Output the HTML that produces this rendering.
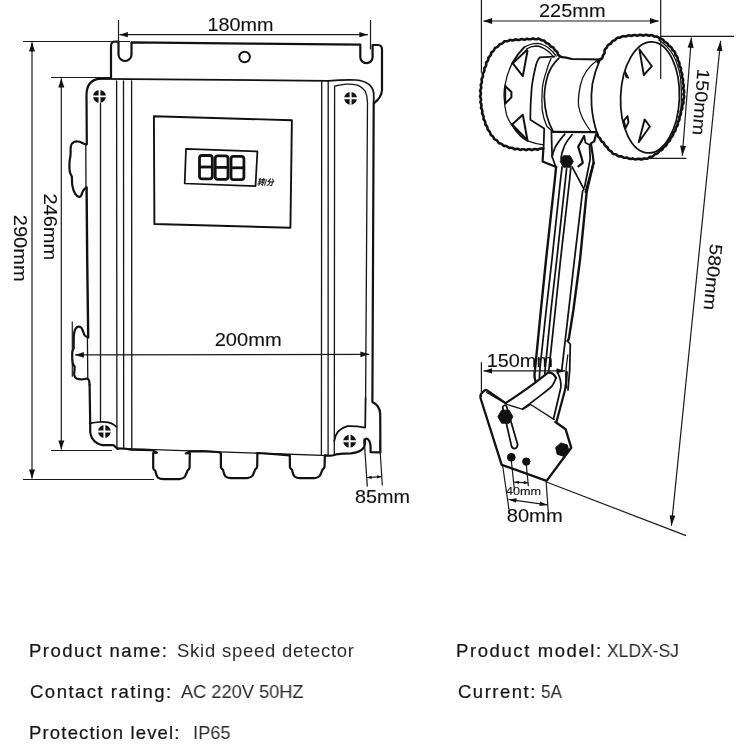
<!DOCTYPE html>
<html lang="en">
<head>
<meta charset="utf-8">
<title>Skid speed detector dimensions</title>
<style>
html,body{margin:0;padding:0;background:#fff;}
body{width:748px;height:748px;overflow:hidden;position:relative;font-family:"Liberation Sans","Noto Sans CJK SC",sans-serif;color:#1a1a1a;}
svg{position:absolute;left:0;top:0;display:block;will-change:transform;}
svg text{font-family:"Liberation Sans","Noto Sans CJK SC",sans-serif;fill:#111;stroke:#111;stroke-width:0.1;}
.o{fill:none;stroke:#111;stroke-width:2.2;stroke-linejoin:round;stroke-linecap:round;}
.m{fill:none;stroke:#111;stroke-width:1.75;stroke-linejoin:round;stroke-linecap:round;}
.t{fill:none;stroke:#141414;stroke-width:1.3;stroke-linejoin:round;stroke-linecap:round;}
.scr .m{stroke-width:1.9;}
.d{fill:none;stroke:#1a1a1a;stroke-width:1.2;}
.a{fill:#111;stroke:none;}
.k{fill:#111;stroke:#111;stroke-width:1;stroke-linejoin:round;}
.spec{position:absolute;white-space:nowrap;font-size:18.5px;line-height:20px;color:#2b2b2b;transform-origin:0 50%;will-change:transform;}
.spec b{font-weight:normal;color:#151515;-webkit-text-stroke:0.22px #151515;}
</style>
</head>
<body>
<svg width="748" height="748" viewBox="0 0 748 748">
<!--LEFT-->
<g id="box">
<!-- top mounting bracket -->
<path class="o" d="M111,78 L111,46 Q111,41.5 115.5,41.5 L118.5,41.6 L118.5,54.5 A6.5,6.5 0 0 0 131.5,54.5 L131.5,42.4 L250,43.6 L360.3,44.7 L360.3,57 A6.15,6.15 0 0 0 372.6,57 L372.6,45 L378,45 Q382,45.2 382,49.5 L382,90 Q381.6,97.5 374.2,103"/>
<circle class="m" cx="244.6" cy="57" r="5.3" style="stroke-width:1.9"/>
<!-- box top + left side -->
<path class="o" d="M111,78 L100,78.6 Q87,80 86.5,94 L86.8,144"/>
<path class="o" d="M86.6,144.5 C84,144.5 81,142 79.3,141.7 C77,141.2 75,141.3 73.7,142.2 C72,143.2 71,144.5 70.9,145.9 C70.3,150 70.8,153 70.4,156.2 C70.1,159 69.4,160.5 69.5,162.7 C69.3,166 69.3,169 69.8,172.1 C70.3,174.2 71.5,175 71.8,176.8 C72.2,179.5 71.8,182.5 72.3,185.2 C72.9,188.5 73.8,191.5 75.1,193.6 C76.2,195.2 77.5,196.6 78.9,196.9 C80,197 80.8,196.4 81.2,195.5 C82,193.8 82.4,192 83.1,190.8 C83.8,189.4 84.6,188.3 86.6,187.6"/>
<path class="t" d="M85.8,144.5 L86,188"/>
<path class="o" d="M86.6,187.6 L87.2,260 L88.2,337.2" style="stroke-width:2.4"/>
<path class="o" d="M88,337.4 C86.5,337 85.6,336.4 84.9,335.6 C83.6,333.5 83,331 82.1,329 C81.5,327.8 80.8,327 79.8,326.7 C78.8,326.4 77.8,326.6 77,327.2 C75.8,328.2 75,329.4 74.6,330.9 C73.9,333.3 73.8,336 73.7,338.4 L73.7,347.7 C73.4,349.5 72.5,350.6 72.3,352.4 C72,356 72.2,360 72.8,363.6 C73.2,365 74.3,365.6 74.6,366.9 C74.8,369.6 74,372.5 74.2,374.9 C74.5,376.6 75.3,378 76.5,378.6 C78.3,379.4 80.2,379.5 82.1,379.5 C83.8,379.4 85.4,378.5 86.8,378.6 C88,378.8 88.7,379.6 89.1,380.5 L89.6,385"/>
<path class="t" d="M87.4,337.4 L87.8,378.6"/>
<path class="o" d="M89.6,385 L90.2,423.4 L90.2,432 Q90.6,435.5 92,438 Q94,441.5 97.4,443.4 Q100,444.8 102.7,445.1 L113.4,445.2 Q115,446.4 116.1,447.6 L117.5,448.6"/>
<path class="m" d="M99,78.8 L328,80.8"/>
<!-- bottom-left screw tab -->
<path class="m" d="M89.6,423.4 Q95,422.4 100,422 Q104.5,421.8 108.1,422.4 Q111,423 113.4,424.4 Q115.2,425.4 116.6,427"/>
<!-- vertical ribs left -->
<path class="t" d="M100.5,103 L100.5,422 M116.6,81 L116.9,448 M123.5,81 L123.7,448.5 M131.6,81 L131.8,449"/>
<!-- vertical ribs right -->
<path class="t" d="M321.7,81 L321.4,454.5 M328.2,81 L328.1,454.8"/>
<path class="t" d="M334.3,454.6 L334.6,86.2 Q341,84.6 346.1,84.2 Q352.5,83.8 358.1,85.4 Q363,87.6 365.4,91.4 Q367.2,95.5 367.5,102.2 L365.6,398"/>
<path class="m" d="M365.6,398 L365.2,427"/>
<path class="m" d="M328,80.8 Q345,79.5 356,80 Q372,81.5 373.7,93 L373.7,103"/>
<path class="o" style="stroke-width:2.2" d="M373.7,103 L372.4,402 Q380,405.5 380.2,414 L380.4,452.4 L370.6,452.2 L370.5,446 Q370,439.5 366.5,438.5 Q364,439 364.5,444"/>
<!-- bottom-right screw tab -->
<path class="m" d="M334.3,441 Q336,429 347.5,426.2 Q356,426 365.2,427.6"/>
<!-- bottom edge with glands -->
<path class="t" d="M117.5,448.4 L330,455.6"/>
<path class="o" d="M117.5,448.6 Q125,448.2 131,449.6 L152.5,450.2 L157,452.6 L153.2,453 L153.2,468.0 Q153.5,470.0 155.4,471.0 Q156.4,476.2 158.2,477.8 Q159.8,479.2 163.2,479.2 L179.6,479.1 Q183.0,479.0 185.0,476.6 Q186.2,474.2 187.6,470.4 Q189.4,469.4 189.6,467.4 L189.8,453.0 L185.8,453.4 L190,451.4 L203,451.2 Q212,451.8 218,452 L220.9,453 L220.9,467.0 Q221.2,469.0 223.1,470.0 Q224.1,475.2 225.9,476.8 Q227.5,478.2 230.9,478.2 L247.2,478.1 Q250.6,478.0 252.6,475.6 Q253.8,473.2 255.2,469.4 Q257.0,468.4 257.2,466.4 L257.4,453.0 L272,454 L289.8,455.4 L289.9,467.0 Q290.2,469.0 292.1,470.0 Q293.1,475.2 294.9,476.8 Q296.5,478.2 299.9,478.2 L314.6,478.1 Q318.0,478.0 320.0,475.6 Q321.2,473.2 322.6,469.4 Q324.4,468.4 324.6,466.4 L324.8,455.4 Q331,456.4 336,454.4 Q343,453.6 351,453.4 Q360,452.4 364,447.5 Q365.4,444 364.6,440"/>
<!-- screws -->
<g class="scr">
<circle cx="99.5" cy="96.4" r="6.4" fill="#111"/><path d="M93.0,96.4 H106.0 M99.5,89.9 V102.9" stroke="#fff" stroke-width="1.9" fill="none"/>
<circle cx="350.6" cy="98.3" r="6.4" fill="#111"/><path d="M344.1,98.3 H357.1 M350.6,91.8 V104.8" stroke="#fff" stroke-width="1.9" fill="none"/>
<circle cx="104.4" cy="431.5" r="6.4" fill="#111"/><path d="M97.9,431.5 H110.9 M104.4,425.0 V438.0" stroke="#fff" stroke-width="1.9" fill="none"/>
<circle cx="349.6" cy="441.2" r="6.4" fill="#111"/><path d="M343.1,441.2 H356.1 M349.6,434.7 V447.7" stroke="#fff" stroke-width="1.9" fill="none"/>
</g>
<!-- display panel -->
<path class="m" style="stroke-width:1.9" d="M153.9,116.2 L291.9,120.3 L290.4,227.7 L154.4,224 Z"/>
<path class="m" d="M186,148.8 L257.4,151.4 L255.5,186.1 L184.7,183.5 Z"/>
<g fill="none" stroke="#111" stroke-width="2.8" stroke-linejoin="round">
<rect x="199.5" y="155.5" width="12.8" height="23.4" rx="2.6"/><path d="M199.5,167 H212.3"/>
<rect x="215.2" y="155.9" width="12.8" height="23.4" rx="2.6"/><path d="M215.2,167.4 H228"/>
<rect x="231" y="156.3" width="12.9" height="23.4" rx="2.6"/><path d="M231,167.8 H243.9"/>
</g>
<text x="257" y="185" font-size="8.4" font-weight="bold" font-style="italic" textLength="16.6" lengthAdjust="spacingAndGlyphs" transform="rotate(2 257 185)">转/分</text>
</g>
<!--/LEFT-->
<!--RIGHT-->
<g id="sensor">
<!-- left wheel tyre -->
<path class="o" style="stroke-width:2.6" d="M560.5,56.5 L559.8,56.1 L559.2,55.7 L558.6,55.2 L558.2,54.7 L557.9,54.1 L557.6,53.4 L557.4,52.6 L557.3,51.9 L556.7,51.4 L556.1,51.1 L555.5,50.7 L555.0,50.2 L554.5,49.7 L554.1,49.1 L553.8,48.4 L553.5,47.7 L552.9,47.3 L552.2,47.1 L551.5,46.8 L550.9,46.5 L550.4,46.0 L549.9,45.5 L549.5,44.9 L549.1,44.2 L548.6,43.8 L547.8,43.6 L547.1,43.4 L546.5,43.1 L545.9,42.7 L545.4,42.2 L544.9,41.7 L544.5,41.0 L544.0,40.6 L543.2,40.5 L542.4,40.4 L541.8,40.3 L541.1,40.0 L540.6,39.7 L540.0,39.4 L539.3,39.0 L538.7,38.6 L537.9,38.8 L537.2,39.1 L536.5,39.2 L535.8,39.3 L535.1,39.2 L534.4,39.0 L533.7,38.8 L533.0,38.4 L532.3,38.7 L531.6,39.0 L530.9,39.2 L530.2,39.3 L529.6,39.3 L528.8,39.2 L528.1,39.0 L527.4,38.7 L526.7,38.8 L526.0,39.2 L525.4,39.4 L524.7,39.6 L524.0,39.6 L523.3,39.5 L522.6,39.3 L521.8,39.1 L521.1,39.1 L520.5,39.4 L519.8,39.7 L519.1,39.9 L518.4,40.0 L517.7,39.9 L517.0,39.7 L516.2,39.5 L515.5,39.4 L514.9,39.8 L514.2,40.1 L513.5,40.3 L512.8,40.4 L512.1,40.4 L511.4,40.3 L510.7,40.1 L509.9,39.9 L509.3,40.3 L508.7,40.7 L508.0,41.0 L507.4,41.2 L506.7,41.3 L506.0,41.3 L505.2,41.3 L504.4,41.2 L503.9,41.8 L503.4,42.3 L502.9,42.8 L502.4,43.3 L501.8,43.6 L501.1,43.9 L500.4,44.1 L499.7,44.2 L499.2,44.8 L498.8,45.4 L498.3,46.0 L497.8,46.5 L497.3,46.9 L496.7,47.2 L496.0,47.5 L495.2,47.7 L494.8,48.2 L494.5,48.9 L494.2,49.6 L493.9,50.2 L493.5,50.8 L493.0,51.3 L492.4,51.7 L491.7,52.1 L491.3,52.6 L491.2,53.4 L491.0,54.1 L490.8,54.8 L490.5,55.4 L490.1,56.0 L489.5,56.5 L489.0,57.0 L488.4,57.5 L488.4,58.3 L488.4,59.0 L488.2,59.7 L488.0,60.4 L487.7,61.0 L487.2,61.5 L486.7,62.1 L486.1,62.6 L486.2,63.4 L486.2,64.1 L486.2,64.9 L486.0,65.6 L485.8,66.2 L485.4,66.8 L484.9,67.4 L484.4,68.0 L484.4,68.7 L484.4,69.4 L484.4,70.2 L484.3,70.9 L484.1,71.5 L483.8,72.2 L483.3,72.8 L482.9,73.4 L482.7,74.0 L482.9,74.8 L482.9,75.5 L482.9,76.2 L482.7,76.9 L482.5,77.6 L482.1,78.2 L481.7,78.8 L481.5,79.5 L481.7,80.3 L481.8,81.0 L481.9,81.7 L481.8,82.4 L481.6,83.1 L481.3,83.7 L480.9,84.4 L480.7,85.1 L480.9,85.8 L481.1,86.5 L481.2,87.2 L481.2,87.9 L481.1,88.6 L480.8,89.3 L480.5,90.0 L480.1,90.7 L480.4,91.4 L480.7,92.1 L480.8,92.8 L480.9,93.5 L480.8,94.2 L480.6,94.9 L480.4,95.6 L480.0,96.3 L480.3,97.0 L480.6,97.7 L480.8,98.4 L481.0,99.1 L481.0,99.7 L480.8,100.5 L480.6,101.2 L480.4,101.9 L480.5,102.6 L480.9,103.3 L481.2,103.9 L481.4,104.6 L481.5,105.3 L481.4,106.0 L481.3,106.7 L481.0,107.5 L481.1,108.2 L481.5,108.8 L481.9,109.4 L482.2,110.1 L482.3,110.8 L482.3,111.5 L482.3,112.2 L482.1,113.0 L482.1,113.7 L482.6,114.3 L483.0,114.9 L483.3,115.6 L483.5,116.2 L483.6,116.9 L483.6,117.6 L483.5,118.4 L483.4,119.1 L483.9,119.7 L484.4,120.3 L484.8,120.9 L485.1,121.6 L485.2,122.2 L485.3,122.9 L485.3,123.7 L485.3,124.5 L485.8,125.0 L486.3,125.5 L486.8,126.1 L487.1,126.7 L487.4,127.4 L487.5,128.0 L487.6,128.8 L487.6,129.6 L488.1,130.1 L488.7,130.6 L489.2,131.1 L489.6,131.7 L490.0,132.3 L490.2,132.9 L490.4,133.6 L490.5,134.4 L490.9,135.0 L491.5,135.4 L492.2,135.8 L492.7,136.2 L493.1,136.8 L493.5,137.4 L493.8,138.0 L494.0,138.8 L494.4,139.3 L495.2,139.6 L495.9,139.9 L496.5,140.2 L497.0,140.7 L497.5,141.2 L497.9,141.8 L498.3,142.4 L498.7,143.1 L499.4,143.2 L500.2,143.4 L500.8,143.6 L501.5,143.9 L502.0,144.3 L502.6,144.8 L503.1,145.3 L503.6,145.9 L504.3,145.9 L505.1,145.9 L505.8,146.0 L506.5,146.2 L507.1,146.4 L507.7,146.8 L508.3,147.3 L508.9,147.8 L509.6,147.9 L510.3,147.8 L511.1,147.7 L511.8,147.8 L512.4,148.0 L513.1,148.3 L513.7,148.7 L514.3,149.1 L515.0,149.2 L515.8,149.0 L516.5,148.9 L517.2,148.8 L517.9,148.9 L518.6,149.1 L519.2,149.4 L519.9,149.7 L520.6,149.9 L521.3,149.6 L522.0,149.3 L522.7,149.2 L523.4,149.2 L524.1,149.3 L524.8,149.6 L525.5,149.9 L526.2,150.1 L526.9,149.8 L527.6,149.5 L528.3,149.3 L529.0,149.3 L529.7,149.3 L530.4,149.5 L531.1,149.8 L531.8,150.1 L532.5,149.7 L533.2,149.4 L533.9,149.2 L534.6,149.1 L535.3,149.1 L536.0,149.2 L536.7,149.4 L537.4,149.7 L538.1,149.5 L538.8,149.1 L539.4,148.8 L540.1,148.6 L540.8,148.5 L541.5,148.5 L542.2,148.6 L543.0,148.8"/>
<!-- rim ellipses -->
<path class="t" d="M556.2,56.1 Q553,51.5 549.5,48.7 Q543.5,44 537.5,43.4 Q530,43.6 524.1,47.4"/>
<path class="t" d="M553.6,56.8 Q550,52.5 547,50.4 Q541.5,46.2 536,46 Q530.5,46.2 526.5,49"/>
<path class="o" style="stroke-width:2" d="M524.1,47.4 Q517,54.5 512.1,63.4"/>
<path class="t" d="M512.1,63.4 Q507.2,73 505.4,83.5 Q503.8,90 504.1,96.8 Q504.4,106.5 506.7,115.6 Q508.6,120.5 511.4,124.1"/>
<path class="o" style="stroke-width:2" d="M511.4,124.1 Q515.5,131 520.8,136.1 Q524,139 527.5,140.8"/>
<path class="t" d="M527.5,140.8 Q535,143.6 543.5,144.8"/>
<!-- spokes holes -->
<path class="m" style="stroke-width:2" d="M526.8,50 Q527.6,50.2 527.4,51.5 L522.8,76.1 L512.8,63.4 Z M505.2,86 L511.4,92 L511.4,97.4 L505.2,103.6 Z M512.1,124.4 L522.8,114.8 L527.5,140.2 Z"/>
<!-- flange -->
<path class="m" d="M554.2,56.7 L539.5,57.4 Q536.6,61.5 536.1,64.8 Q532.3,80 531.5,90.2 Q530.3,105 530.3,119.8 L544.2,128.6 L543.6,148.4"/>
<path class="t" d="M550.9,58.7 Q548,65 546.8,70.1 Q542.6,82 542.2,90.2 Q541.6,100 542.2,110.2 Q543.5,119 546.8,126.3 L552.1,130.9"/>
<!-- hub cylinder -->
<path class="m" d="M558.9,58.1 Q551,66 548.2,74.1 Q544.5,86 544.3,96.8 Q544.6,107 546.8,115.6 Q549,124 552.9,131.2"/>
<path class="o" d="M560.2,56.8 Q566,57 572,59 L601.2,59.5 M552.7,131.8 L595.2,132.2"/>
<path class="t" d="M596.9,60.5 Q583.5,70 580.2,86 Q577.8,98 578.6,106 Q580.5,118 590.9,131.4"/>
<!-- right wheel tyre -->
<path class="o" style="stroke-width:2.6" d="M597.8,62.2 L598.1,61.5 L598.5,60.8 L598.9,60.2 L599.4,59.7 L599.9,59.3 L600.5,59.0 L601.2,58.7 L602.0,58.4 L602.3,57.8 L602.5,57.1 L602.7,56.4 L602.9,55.8 L603.2,55.2 L603.5,54.6 L604.0,54.0 L604.5,53.4 L604.6,52.7 L604.5,52.0 L604.5,51.2 L604.6,50.5 L604.8,49.8 L605.2,49.2 L605.7,48.6 L606.3,48.2 L606.8,47.7 L607.0,47.0 L607.3,46.2 L607.6,45.6 L608.1,45.1 L608.7,44.6 L609.3,44.3 L610.1,44.1 L610.8,43.8 L611.1,43.1 L611.5,42.5 L611.9,41.9 L612.3,41.3 L612.9,40.9 L613.6,40.6 L614.3,40.4 L615.0,40.2 L615.5,39.7 L615.9,39.0 L616.4,38.5 L617.0,38.1 L617.7,37.8 L618.4,37.6 L619.2,37.6 L619.9,37.7 L620.6,37.4 L621.2,37.0 L621.8,36.6 L622.5,36.3 L623.2,36.2 L623.9,36.2 L624.6,36.3 L625.4,36.5 L626.1,36.5 L626.7,36.1 L627.4,35.7 L628.1,35.5 L628.8,35.4 L629.5,35.4 L630.2,35.6 L630.9,35.8 L631.6,36.0 L632.3,35.6 L633.0,35.3 L633.7,35.1 L634.4,35.0 L635.1,35.0 L635.8,35.2 L636.5,35.4 L637.2,35.7 L637.9,35.5 L638.6,35.2 L639.3,34.9 L640.0,34.8 L640.7,34.9 L641.4,35.0 L642.1,35.3 L642.8,35.6 L643.5,35.5 L644.2,35.2 L644.9,35.0 L645.6,34.9 L646.3,34.9 L647.0,35.0 L647.7,35.3 L648.4,35.6 L649.1,35.8 L649.8,35.5 L650.5,35.3 L651.2,35.2 L652.0,35.3 L652.6,35.5 L653.3,35.8 L653.9,36.3 L654.5,36.7 L655.3,36.5 L656.1,36.5 L656.8,36.6 L657.5,36.8 L658.1,37.1 L658.7,37.5 L659.2,38.1 L659.7,38.7 L660.4,38.8 L661.2,38.9 L661.9,39.1 L662.5,39.4 L663.1,39.8 L663.6,40.4 L664.0,41.0 L664.3,41.7 L664.9,42.1 L665.7,42.3 L666.3,42.6 L666.9,43.0 L667.4,43.5 L667.9,44.1 L668.2,44.7 L668.5,45.4 L669.0,46.0 L669.7,46.2 L670.3,46.6 L670.9,47.0 L671.4,47.5 L671.8,48.1 L672.1,48.8 L672.3,49.5 L672.6,50.2 L673.2,50.5 L673.9,51.0 L674.4,51.5 L674.8,52.1 L675.1,52.7 L675.3,53.4 L675.4,54.2 L675.4,54.9 L676.0,55.4 L676.5,56.0 L677.0,56.5 L677.3,57.1 L677.6,57.8 L677.7,58.5 L677.7,59.3 L677.6,60.0 L678.0,60.7 L678.5,61.2 L678.9,61.8 L679.2,62.5 L679.4,63.1 L679.5,63.8 L679.5,64.6 L679.4,65.3 L679.6,66.0 L680.0,66.6 L680.5,67.2 L680.8,67.9 L681.0,68.6 L681.0,69.3 L681.0,70.0 L680.9,70.7 L680.8,71.5 L681.3,72.1 L681.7,72.7 L682.0,73.4 L682.2,74.1 L682.2,74.8 L682.2,75.5 L682.0,76.2 L681.8,77.0 L682.2,77.6 L682.6,78.3 L682.9,78.9 L683.1,79.6 L683.1,80.3 L683.0,81.0 L682.9,81.8 L682.6,82.5 L682.9,83.2 L683.2,83.8 L683.5,84.5 L683.7,85.2 L683.8,85.9 L683.7,86.6 L683.5,87.3 L683.2,88.0 L683.3,88.7 L683.6,89.4 L683.9,90.1 L684.1,90.8 L684.2,91.5 L684.1,92.2 L683.9,92.9 L683.6,93.6 L683.4,94.3 L683.7,95.0 L684.0,95.7 L684.1,96.4 L684.1,97.2 L684.0,97.9 L683.8,98.5 L683.4,99.2 L683.0,99.9 L683.3,100.6 L683.4,101.3 L683.5,102.1 L683.5,102.8 L683.3,103.5 L683.0,104.1 L682.6,104.8 L682.1,105.4 L682.1,106.1 L682.3,106.8 L682.3,107.6 L682.3,108.3 L682.1,109.0 L681.8,109.6 L681.4,110.2 L680.9,110.8 L680.8,111.5 L680.9,112.3 L681.0,113.0 L680.9,113.7 L680.8,114.4 L680.5,115.1 L680.1,115.7 L679.7,116.3 L679.4,116.9 L679.5,117.7 L679.6,118.4 L679.5,119.2 L679.4,119.8 L679.1,120.5 L678.7,121.1 L678.2,121.7 L677.7,122.3 L677.8,123.0 L677.9,123.8 L677.8,124.5 L677.6,125.2 L677.3,125.8 L676.9,126.4 L676.4,127.0 L675.8,127.5 L675.7,128.2 L675.7,129.0 L675.6,129.7 L675.4,130.4 L675.1,131.0 L674.6,131.6 L674.1,132.1 L673.5,132.6 L673.2,133.2 L673.2,134.0 L673.1,134.7 L672.8,135.4 L672.5,136.0 L672.1,136.6 L671.5,137.1 L670.9,137.5 L670.4,138.1 L670.3,138.8 L670.2,139.6 L669.9,140.2 L669.6,140.9 L669.1,141.4 L668.5,141.8 L667.9,142.3 L667.3,142.7 L667.1,143.4 L666.9,144.1 L666.6,144.8 L666.2,145.4 L665.7,145.9 L665.1,146.3 L664.4,146.6 L663.7,146.9 L663.4,147.6 L663.1,148.3 L662.7,148.9 L662.3,149.5 L661.7,149.9 L661.1,150.3 L660.4,150.5 L659.6,150.7 L659.1,151.2 L658.8,151.9 L658.3,152.5 L657.8,153.0 L657.3,153.4 L656.6,153.7 L655.9,154.0 L655.2,154.1 L654.6,154.4 L654.1,155.0 L653.6,155.6 L653.1,156.1 L652.5,156.4 L651.8,156.7 L651.1,156.8 L650.3,156.8 L649.6,156.9 L649.1,157.5 L648.5,158.0 L647.9,158.4 L647.3,158.7 L646.5,158.8 L645.8,158.8 L645.0,158.6 L644.3,158.4 L643.6,158.7 L643.0,159.0 L642.3,159.3 L641.6,159.4 L640.9,159.4 L640.2,159.2 L639.5,159.0 L638.8,158.7 L638.1,158.8 L637.4,159.1 L636.6,159.3 L635.9,159.4 L635.2,159.3 L634.5,159.2 L633.8,158.9 L633.2,158.6 L632.5,158.4 L631.8,158.7 L631.0,158.9 L630.3,158.9 L629.6,158.8 L628.9,158.6 L628.3,158.3 L627.6,157.9 L627.0,157.5 L626.2,157.7 L625.5,157.8 L624.8,157.8 L624.1,157.7 L623.4,157.5 L622.8,157.2 L622.1,156.7 L621.5,156.2 L620.8,156.3 L620.0,156.4 L619.3,156.4 L618.6,156.3 L617.9,156.0 L617.3,155.6 L616.8,155.0 L616.3,154.5 L615.6,154.3 L614.9,154.2 L614.1,154.1 L613.4,153.9 L612.8,153.5 L612.3,153.0 L611.9,152.3 L611.5,151.6 L611.1,151.2 L610.3,150.9 L609.7,150.6 L609.1,150.1 L608.6,149.6 L608.2,149.1 L607.9,148.4 L607.6,147.7 L607.3,147.0 L606.6,146.7 L606.0,146.3 L605.4,145.9 L604.9,145.4 L604.5,144.8 L604.2,144.1 L604.0,143.4 L603.8,142.7 L603.1,142.3 L602.4,142.0 L601.8,141.6 L601.3,141.1 L600.9,140.5 L600.6,139.9 L600.4,139.1 L600.2,138.4 L599.7,137.9 L599.1,137.5 L598.5,137.0 L598.1,136.4 L597.7,135.8 L597.5,135.1 L597.4,134.4 L597.3,133.6"/>
<path class="m" d="M599.7,60.3 Q594.6,72 592.4,83.8 Q590.8,95 591.6,105.9 Q592.8,121 597.4,134"/>
<!-- right wheel face -->
<ellipse class="m" cx="650" cy="97.4" rx="29.4" ry="55.6" transform="rotate(2.1 650 97.4)"/>
<path class="t" d="M659,40.2 Q667,45 673.2,55 Q678.5,65 680.6,78 Q682,92 681.2,106 Q679.5,121 673.5,134 Q667,146.5 657.5,152.2"/>
<path class="m" style="stroke-width:1.9" d="M639.4,49.3 L651.9,66.2 L643.8,75 Z M644.6,119.4 L649.9,126.5 L638.7,142.2 Z M627.6,116.2 L628.4,122.4 L625.6,128.2 L623.8,120.6 Z"/>
<path class="m" d="M625.2,72 L628.2,77.8 L626.2,76.8 Z"/>
<!-- fork / bracket under hub -->
<path class="o" d="M543.4,148.3 L542.6,161.4 L556.1,167"/>
<path class="m" d="M551.4,131 L552.1,156.5 L555.4,166"/>
<path class="m" d="M564.8,134.1 Q557.5,142.5 554.8,148.1 Q552.8,152.5 552.1,157"/>
<path class="m" d="M572.1,134.8 Q566,142 564.1,146.8 Q561.5,152.5 561,159"/>
<!-- pawl -->
<path class="o" d="M584.2,136.1 L578.2,146.8 L581.5,157.5 L582.8,162.8 L578.4,166.4"/>
<path class="m" d="M584.2,136.1 L585.5,142.8 L589.5,144.8 L590.2,158.8 L584.6,187"/>
<path class="o" d="M596.2,134.1 L594.2,141.4 L590.9,143.4 L592.9,156.1 L593.6,162.7 L585.6,192"/>
<!-- bolt -->
<path class="k" d="M573.3,161.5 L570,167.2 L563.5,167.2 L560.2,161.5 L563.5,155.8 L570,155.8 Z"/>
<!-- arm -->
<path class="o" style="stroke-width:2.4" d="M556.1,167 L554.8,180 L546,260 L540.9,310 L535,369.9 Q533.8,376 535.4,381"/>
<path class="m" d="M562.1,167 L560.5,180 L551.9,260 L546.2,310 L539.8,369.9 L539.4,378"/>
<path class="m" d="M566.6,168.7 L565.4,180 L556.7,260 L551,310 L545.1,369.9 L544.8,374"/>
<path class="m" d="M570.8,168 L569.6,180 L560.5,260 L555.3,310 L548.9,369.9 L548.7,372"/>
<path class="m" d="M572.1,166.8 L584,189.2 L582.6,191 L574.4,260 L568.7,310 L561.8,369.9"/>
<path class="o" style="stroke-width:2.4" d="M593.6,162.7 L586.7,191.8 L580,260 L573.4,310 L568.8,338.9 L567.6,341"/>
<path class="m" d="M567.6,341 L570.3,344.2 L569.7,369.9 L568,390"/>
<path class="t" d="M567.8,355 Q566.2,366 565.6,376 L566.8,388"/>
<!-- arm foot -->
<path class="o" d="M506,402.9 Q512,399 518,394.9 Q527,388.8 534.9,382.9 L548.1,372.6 Q551,372.4 552.9,373.8 Q555,375.5 556,378"/>
<path class="m" d="M556,378 Q554.5,382.5 551.7,386.5 Q546,391.5 539.7,396.1 L529.5,403.9 L522.9,408.7"/>
<path class="t" d="M486.7,392.5 L507.2,404.5 L522.9,409.4 L530.7,404.5 L554.2,419.6"/>
<path class="m" d="M557.8,373.2 Q561.5,380 560.8,387.7 L553.5,419"/>
<path class="o" d="M566.8,372 Q566.8,381 565,390 L556.6,421.4"/>
<!-- base plate -->
<path class="o" style="stroke-width:2.3" d="M486.7,390.2 L506,403.4 M555.4,422 L565.6,429.2 L571.2,447.7 L546.6,480.9 L501.7,464.8 L480.8,399 Q479.5,394.6 482.6,392.4 Q484.8,389.4 486.7,390.2"/>
<!-- slot -->
<path class="m" d="M502.6,407 Q504.6,403.8 506.6,406.4 L517.6,444.4 Q517.6,447.6 514.8,448.6 Q512.4,448.6 511.6,446.4 Z"/>
<!-- hex bolts -->
<path class="k" d="M512.9,416.7 L509.1,423.2 L501.6,423.2 L497.9,416.7 L501.6,410.2 L509.1,410.2 Z"/>
<path class="k" d="M568.9,451.7 L563.7,456.3 L557.2,454.2 L555.7,447.5 L560.9,442.9 L567.4,445.0 Z"/>
<circle class="k" cx="511.3" cy="457.3" r="3.9"/>
<circle class="k" cx="526.3" cy="461.6" r="3.7"/>
</g>
<!--/RIGHT-->
<!--DIMS-->
<path class="d" d="M118.5,20.0 L118.5,49.5"/>
<path class="d" d="M370.5,20.0 L370.5,49.5"/>
<path class="d" d="M119.4,34.7 L367.9,34.7"/>
<path class="a" d="M119.4,34.7 L127.9,32.1 L127.9,37.3 Z"/>
<path class="a" d="M367.9,34.7 L359.4,37.3 L359.4,32.1 Z"/>
<text x="207.5" y="30.8" font-size="17.8" textLength="66.0" lengthAdjust="spacingAndGlyphs">180mm</text>
<path class="d" d="M23.0,41.5 L130.0,41.5"/>
<path class="d" d="M23.0,479.5 L154.0,479.5"/>
<path class="d" d="M32.0,42.2 L32.0,478.6"/>
<path class="a" d="M32.0,42.2 L35.0,51.4 L29.0,51.4 Z"/>
<path class="a" d="M32.0,478.6 L29.0,469.4 L35.0,469.4 Z"/>
<path class="d" d="M51.0,77.5 L111.0,77.5"/>
<path class="d" d="M51.0,450.5 L112.0,450.5"/>
<path class="d" d="M61.3,78.2 L61.3,449.6"/>
<path class="a" d="M61.3,78.2 L64.3,87.4 L58.3,87.4 Z"/>
<path class="a" d="M61.3,449.6 L58.3,440.4 L64.3,440.4 Z"/>
<text font-size="17.8" textLength="66.8" lengthAdjust="spacingAndGlyphs" transform="translate(44.4 193.4) rotate(90)">246mm</text>
<text font-size="17.8" textLength="66.8" lengthAdjust="spacingAndGlyphs" transform="translate(14.4 214.8) rotate(90)">290mm</text>
<path class="d" d="M72.3,321.5 L72.3,376.7"/>
<path class="d" d="M75.1,354.9 L369.2,354.3"/>
<path class="a" d="M75.1,354.9 L83.9,352.0 L83.9,357.8 Z"/>
<path class="a" d="M369.2,354.3 L360.4,357.2 L360.4,351.4 Z"/>
<text x="214.7" y="346.4" font-size="17.8" textLength="67.0" lengthAdjust="spacingAndGlyphs">200mm</text>
<path class="d" d="M364.1,438.4 L367.3,486.6"/>
<path class="d" d="M379.5,440.6 L382.3,485.5"/>
<path class="d" d="M367.2,477.6 L381.4,476.6"/>
<path class="a" d="M367.0,477.6 L371.5,475.7 L371.7,478.9 Z"/>
<path class="a" d="M381.6,476.6 L377.1,478.5 L376.9,475.3 Z"/>
<text x="355.1" y="502.6" font-size="17.8" textLength="55.0" lengthAdjust="spacingAndGlyphs">85mm</text>
<path class="d" d="M481.4,0.0 L481.4,72.7"/>
<path class="d" d="M660.7,0.0 L660.7,79.0"/>
<path class="d" d="M483.3,21.0 L658.8,21.0"/>
<path class="a" d="M483.3,21.0 L492.1,18.1 L492.1,23.9 Z"/>
<path class="a" d="M658.8,21.0 L650.0,23.9 L650.0,18.1 Z"/>
<text x="539.0" y="16.8" font-size="17.8" textLength="66.5" lengthAdjust="spacingAndGlyphs">225mm</text>
<path class="d" d="M660.7,36.4 L734.0,36.4"/>
<path class="d" d="M691.4,37.6 L682.3,155.8"/>
<path class="a" d="M691.4,37.6 L693.6,48.0 L687.6,47.5 Z"/>
<path class="a" d="M682.3,155.8 L680.1,145.4 L686.1,145.9 Z"/>
<path class="d" d="M640.0,158.3 L686.4,158.3"/>
<text font-size="17.8" textLength="66.4" lengthAdjust="spacingAndGlyphs" transform="translate(697.6 68.6) rotate(94.55)">150mm</text>
<path class="d" d="M720.6,40.8 L671.4,525.8"/>
<path class="a" d="M720.6,40.8 L722.4,51.3 L716.7,50.8 Z"/>
<path class="a" d="M671.4,525.8 L669.6,515.3 L675.3,515.8 Z"/>
<text font-size="17.8" textLength="66.6" lengthAdjust="spacingAndGlyphs" transform="translate(710.2 243.4) rotate(95.79)">580mm</text>
<path class="d" d="M546.4,482.0 L686.0,535.6"/>
<path class="d" d="M481.4,362.2 L481.4,397.0"/>
<path class="d" d="M483.5,370.9 L565.0,370.9"/>
<path class="a" d="M483.5,370.9 L492.0,368.3 L492.0,373.5 Z"/>
<path class="a" d="M565.0,370.9 L556.5,373.5 L556.5,368.3 Z"/>
<text x="486.7" y="367.0" font-size="17.8" textLength="66.3" lengthAdjust="spacingAndGlyphs">150mm</text>
<path class="d" d="M511.3,460.5 L514.5,490.5"/>
<path class="d" d="M526.3,464.8 L528.4,486.2"/>
<path class="d" d="M514.2,482.2 L528.0,482.8"/>
<path class="a" d="M514.4,482.2 L519.1,480.7 L518.9,484.1 Z"/>
<path class="a" d="M528.4,482.8 L523.7,484.3 L523.9,480.9 Z"/>
<text x="505.9" y="495.4" font-size="11.3" textLength="35.2" lengthAdjust="spacingAndGlyphs">40mm</text>
<path class="d" d="M502.7,466.0 L509.2,511.0"/>
<path class="d" d="M546.1,481.4 L548.8,519.5"/>
<path class="d" d="M508.5,499.4 L547.6,504.9"/>
<path class="a" d="M508.5,499.4 L516.7,498.2 L516.1,502.8 Z"/>
<path class="a" d="M547.6,504.9 L539.4,506.1 L540.0,501.5 Z"/>
<text x="506.7" y="521.8" font-size="18.6" textLength="56.0" lengthAdjust="spacingAndGlyphs">80mm</text>
<!--/DIMS-->
</svg>
<!--SPECS-->
<div class="spec" id="s1" style="left:28.7px;top:641px;letter-spacing:1.46px"><b>Product name:</b></div>
<div class="spec" id="s2" style="left:177.4px;top:641px;letter-spacing:0.75px">Skid speed detector</div>
<div class="spec" id="s3" style="left:29.6px;top:682.4px;letter-spacing:1.49px"><b>Contact rating:</b></div>
<div class="spec" id="s4" style="left:181.2px;top:682.4px;transform:scaleX(0.985)">AC 220V 50HZ</div>
<div class="spec" id="s5" style="left:29.2px;top:723.3px;letter-spacing:1.18px"><b>Protection level:</b></div>
<div class="spec" id="s6" style="left:192.6px;top:723.3px;transform:scaleX(0.985)">IP65</div>
<div class="spec" id="s7" style="left:455.9px;top:641px;letter-spacing:1.6px"><b>Product model:</b></div>
<div class="spec" id="s8" style="left:606.6px;top:641px;transform:scaleX(0.946)">XLDX-SJ</div>
<div class="spec" id="s9" style="left:457.6px;top:682.4px;letter-spacing:1.5px"><b>Current:</b></div>
<div class="spec" id="s10" style="left:541px;top:682.4px;transform:scaleX(0.93)">5A</div>
<!--/SPECS-->
</body>
</html>
